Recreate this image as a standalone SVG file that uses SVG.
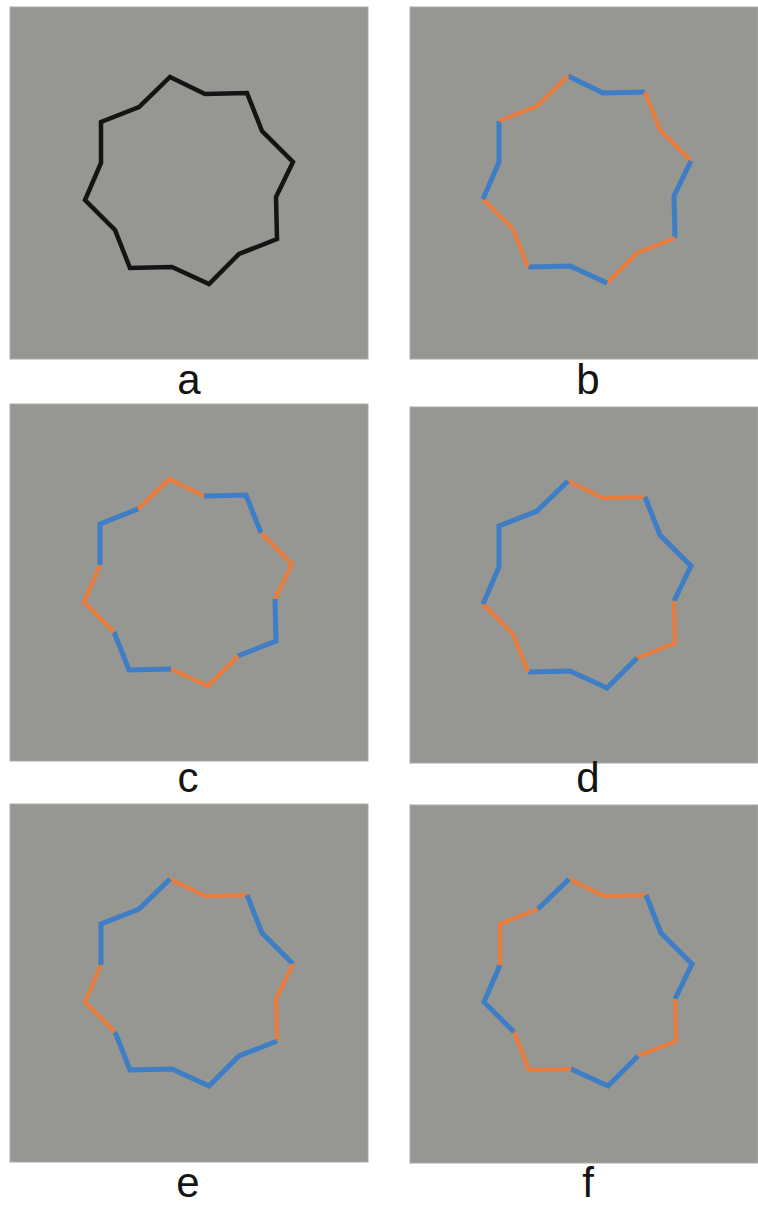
<svg xmlns="http://www.w3.org/2000/svg" width="758" height="1208" viewBox="0 0 758 1208">
<style>
.bg{fill:#969692;stroke:#a9a9a5;stroke-width:1}
.s{fill:none;stroke-linejoin:miter;stroke-linecap:butt}
.k{stroke:#141414;stroke-width:4.5}
.b{stroke:#3d7ec6;stroke-width:5}
.o{stroke:#ec7b3a;stroke-width:4}
.lbl{font-family:"Liberation Sans",Arial,sans-serif;font-size:42px;fill:#141414;text-anchor:middle}
</style>
<rect width="758" height="1208" fill="#ffffff"/>
<g id="panel-a">
<rect class="bg" x="10" y="7" width="358" height="352"/>
<g transform="translate(0,0)">
<path class="s k" d="M170 77 L205 94 L247 93 L262 131 L293 162 L276 197 L277 239 L239 254 L209 284 L172 267 L130 268 L115 230 L85 200 L101 163 L101 122 L139 107 Z"/>
</g>
<text class="lbl" x="189" y="394">a</text>
</g>
<g id="panel-b">
<rect class="bg" x="410" y="7" width="348" height="352"/>
<g transform="translate(398,-1)">
<path class="s b" d="M170 77 L205 94 L247 93"/>
<path class="s o" d="M247 93 L262 131 L293 162"/>
<path class="s b" d="M293 162 L276 197 L277 239"/>
<path class="s o" d="M277 239 L239 254 L209 284"/>
<path class="s b" d="M209 284 L172 267 L130 268"/>
<path class="s o" d="M130 268 L115 230 L85 200"/>
<path class="s b" d="M85 200 L101 163 L101 122"/>
<path class="s o" d="M101 122 L139 107 L170 77"/>
</g>
<text class="lbl" x="588" y="394">b</text>
</g>
<g id="panel-c">
<rect class="bg" x="10" y="404" width="358" height="357"/>
<g transform="translate(-1,402)">
<path class="s o" d="M139 107 L170 77 L205 94"/>
<path class="s b" d="M205 94 L247 93 L262 131"/>
<path class="s o" d="M262 131 L293 162 L276 197"/>
<path class="s b" d="M276 197 L277 239 L239 254"/>
<path class="s o" d="M239 254 L209 284 L172 267"/>
<path class="s b" d="M172 267 L130 268 L115 230"/>
<path class="s o" d="M115 230 L85 200 L101 163"/>
<path class="s b" d="M101 163 L101 122 L139 107"/>
</g>
<text class="lbl" x="188" y="792">c</text>
</g>
<g id="panel-d">
<rect class="bg" x="410" y="407" width="348" height="356"/>
<g transform="translate(398,404)">
<path class="s o" d="M170 77 L205 94 L247 93"/>
<path class="s b" d="M247 93 L262 131 L293 162 L276 197"/>
<path class="s o" d="M276 197 L277 239 L239 254"/>
<path class="s b" d="M239 254 L209 284 L172 267 L130 268"/>
<path class="s o" d="M130 268 L115 230 L85 200"/>
<path class="s b" d="M85 200 L101 163 L101 122 L139 107 L170 77"/>
</g>
<text class="lbl" x="588" y="792">d</text>
</g>
<g id="panel-e">
<rect class="bg" x="10" y="804" width="358" height="358"/>
<g transform="translate(0,802)">
<path class="s o" d="M170 77 L205 94 L247 93"/>
<path class="s b" d="M247 93 L262 131 L293 162"/>
<path class="s o" d="M293 162 L276 197 L277 239"/>
<path class="s b" d="M277 239 L239 254 L209 284 L172 267 L130 268 L115 230"/>
<path class="s o" d="M115 230 L85 200 L101 163"/>
<path class="s b" d="M101 163 L101 122 L139 107 L170 77"/>
</g>
<text class="lbl" x="188" y="1197">e</text>
</g>
<g id="panel-f">
<rect class="bg" x="410" y="805" width="348" height="358"/>
<g transform="translate(399,802)">
<path class="s o" d="M170 77 L205 94 L247 93"/>
<path class="s b" d="M247 93 L262 131 L293 162 L276 197"/>
<path class="s o" d="M276 197 L277 239 L239 254"/>
<path class="s b" d="M239 254 L209 284 L172 267"/>
<path class="s o" d="M172 267 L130 268 L115 230"/>
<path class="s b" d="M115 230 L85 200 L101 163"/>
<path class="s o" d="M101 163 L101 122 L139 107"/>
<path class="s b" d="M139 107 L170 77"/>
</g>
<text class="lbl" x="588" y="1197">f</text>
</g>
</svg>
